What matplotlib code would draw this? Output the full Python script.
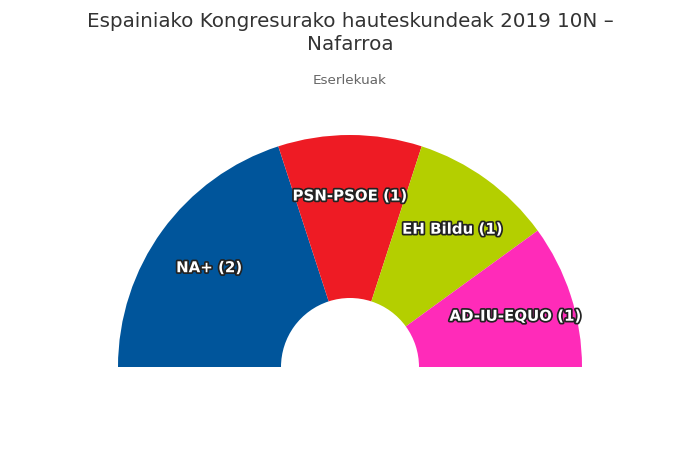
import matplotlib
matplotlib.use("Agg")
import matplotlib.pyplot as plt
import matplotlib.patheffects as pe
import numpy as np

# eserlekuak / seats
parties = ["NA+", "PSN-PSOE", "EH Bildu", "AD-IU-EQUO"]
seats = [2, 1, 1, 1]
colors = ["#00559b", "#ee1b24", "#b4cf00", "#ff2bb9"]

title = "Espainiako Kongresurako hauteskundeak 2019 10N –\nNafarroa"
subtitle = "Eserlekuak"

fig = plt.figure(figsize=(7, 4.67), dpi=100)
ax = fig.add_axes([0, 0, 1, 1])
ax.set_xlim(0, 700)
ax.set_ylim(0, 467)
ax.set_aspect("equal")
ax.axis("off")

cx, cy = 350, 100
r_out, r_in = 232, 69
total = sum(seats)

# half donut: the second half is an invisible wedge
vals = seats + [total]
cols = colors + ["none"]
wedges, _ = ax.pie(vals, colors=cols, startangle=180, counterclock=False,
                   center=(cx, cy), radius=r_out,
                   wedgeprops=dict(width=r_out - r_in, linewidth=0))
ax.set_xlim(0, 700)
ax.set_ylim(0, 467)

# labels inside the slices
start = 180.0
r_lab = 174
for name, n in zip(parties, seats):
    span = 180.0 * n / total
    mid = np.radians(start - span / 2)
    start -= span
    ax.text(cx + r_lab * np.cos(mid), cy - 3 + r_lab * np.sin(mid),
            f"{name} ({n})", ha="center", va="center", color="white",
            fontsize=10.8, fontweight="bold",
            path_effects=[pe.withStroke(linewidth=2.5, foreground="#222222")])

fig.text(0.5, 1 - 33 / 467, title, ha="center", va="center",
         fontsize=14.3, color="#333333", linespacing=1.3)
fig.text(0.5, 1 - 80 / 467, subtitle, ha="center", va="center",
         fontsize=9.7, color="#666666")

fig.savefig("out.png", dpi=100, facecolor="white")
